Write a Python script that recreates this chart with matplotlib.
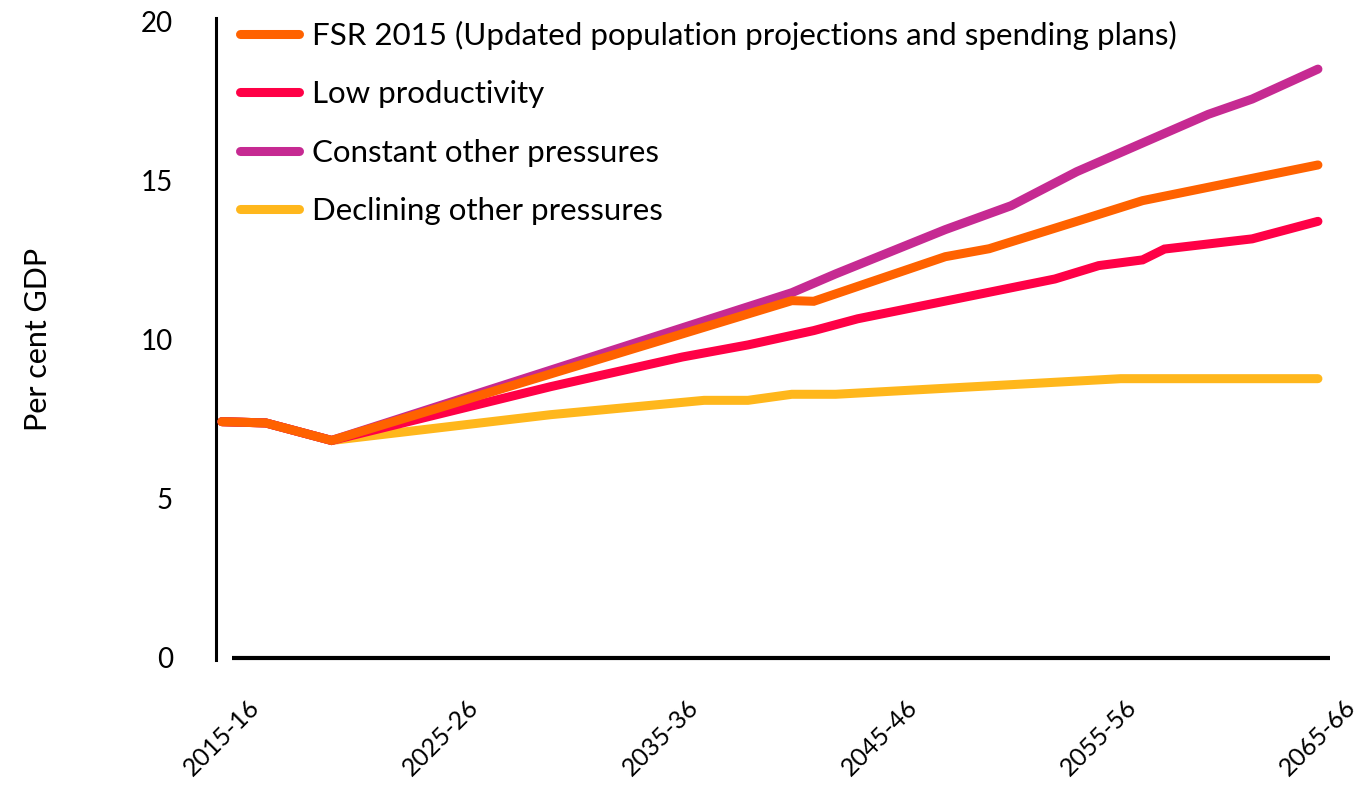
import numpy as np
import matplotlib.pyplot as plt

plt.rcParams['font.family'] = ['Lato', 'DejaVu Sans']

# Lata (rok początkowy roku budżetowego) i wartości w % PKB w punktach załamania linii
fsr_years = [2015, 2017, 2020, 2041, 2042, 2048, 2050, 2054, 2057, 2065]
fsr_vals = [7.42, 7.38, 6.83, 11.22, 11.20, 12.60, 12.85, 13.71, 14.36, 15.48]

lowprod_years = [2015, 2017, 2020, 2030, 2036, 2039, 2042, 2044, 2053, 2055, 2057, 2058, 2062, 2065]
lowprod_vals = [7.42, 7.38, 6.83, 8.52, 9.45, 9.83, 10.28, 10.65, 11.90, 12.32, 12.50, 12.84, 13.16, 13.71]

constant_years = [2015, 2017, 2020, 2041, 2043, 2048, 2051, 2054, 2060, 2062, 2065]
constant_vals = [7.42, 7.38, 6.83, 11.47, 12.06, 13.45, 14.20, 15.27, 17.07, 17.55, 18.49]

declining_years = [2015, 2017, 2020, 2030, 2037, 2039, 2041, 2043, 2056, 2065]
declining_vals = [7.42, 7.38, 6.83, 7.64, 8.09, 8.09, 8.28, 8.28, 8.77, 8.77]

tick_years = [2015, 2025, 2035, 2045, 2055, 2065]
tick_labels = ['2015-16', '2025-26', '2035-36', '2045-46', '2055-56', '2065-66']

series = [
    ('FSR 2015 (Updated population projections and spending plans)', fsr_years, fsr_vals, '#ff6200', 5),
    ('Low productivity', lowprod_years, lowprod_vals, '#ff0046', 3),
    ('Constant other pressures', constant_years, constant_vals, '#c62a92', 4),
    ('Declining other pressures', declining_years, declining_vals, '#ffb71c', 2),
]

fig = plt.figure(figsize=(13.66, 7.88), dpi=100)
ax = fig.add_axes([216 / 1366, 130 / 788, (1330 - 216) / 1366, (658 - 21) / 788])

for label, xs, ys, color, z in series:
    ax.plot(xs, ys, color=color, lw=6.5, label=label, zorder=z,
            solid_capstyle='round', solid_joinstyle='miter')

ax.set_xlim(2015 - 0.27, 2065 + 0.55)
ax.set_ylim(0, 20)

for s in ['top', 'right']:
    ax.spines[s].set_visible(False)
ax.spines['left'].set_linewidth(2.2)
ax.spines['left'].set_bounds(-0.05, 20.1)
ax.spines['bottom'].set_linewidth(3)
ax.spines['bottom'].set_bounds(2015.45, 2065.55)
ax.spines['bottom'].set_capstyle('butt')

ax.set_yticks([0, 5, 10, 15, 20])
ax.set_yticks([0], minor=True)
ax.tick_params(axis='y', which='major', length=0, pad=31, labelsize=20)
ax.tick_params(axis='y', which='minor', length=4, width=2)
ax.set_xticks(tick_years)
ax.set_xticklabels(tick_labels, rotation=45, ha='center')
ax.tick_params(axis='x', length=0, pad=27, labelsize=18)

ax.set_ylabel('Per cent GDP', fontsize=22, labelpad=64)

leg = ax.legend(loc='upper left', bbox_to_anchor=(0.0215, 1.0), frameon=False,
                fontsize=22.5, handlelength=1.9, handletextpad=0.42,
                labelspacing=0.97, borderpad=0, borderaxespad=0)
for line in leg.get_lines():
    line.set_linewidth(6.5)
    line.set_solid_capstyle('round')

fig.savefig('out.png', dpi=100)
